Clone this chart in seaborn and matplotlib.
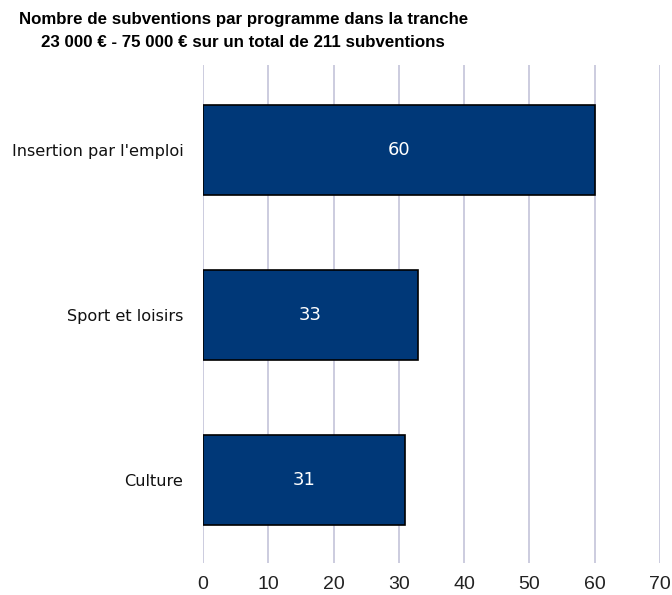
import pandas as pd
import matplotlib.pyplot as plt
import seaborn as sns

programmes = ["Insertion par l'emploi", "Sport et loisirs", "Culture"]
nb_subventions = [60, 33, 31]
ticks = [0, 10, 20, 30, 40, 50, 60, 70]
titre = "Nombre de subventions par programme dans la tranche\n23 000 € - 75 000 € sur un total de 211 subventions"

df = pd.DataFrame({'programme': programmes, 'nb': nb_subventions})

sns.set_theme(style="white")
plt.rcParams['font.family'] = ['DejaVu Sans']

fig = plt.figure(figsize=(6.72, 5.95), dpi=100)
ax = fig.add_axes([0.302, 0.054, 0.68, 0.837])

sns.barplot(data=df, x='nb', y='programme', color='#003878', saturation=1,
            edgecolor='black', linewidth=1.2, width=0.545, ax=ax, zorder=3)

for i, v in enumerate(nb_subventions):
    ax.text(v / 2, i, str(v), color='white', ha='center', va='center', fontsize=13, zorder=4)

ax.set_xlim(0, 70)
ax.set_ylim(2.503, -0.515)
ax.set_xticks(ticks)
ax.xaxis.grid(True, color='#c8c8dc', linewidth=1.3, zorder=0)
ax.yaxis.grid(False)
for s in ax.spines.values():
    s.set_visible(False)
ax.tick_params(axis='x', length=0, pad=9.5, labelsize=14, colors='#222222')
ax.tick_params(axis='y', length=0, pad=14, labelsize=11.6, colors='#111111')
for lab in ax.get_xticklabels():
    lab.set_family('Liberation Sans')
ax.set_xlabel('')
ax.set_ylabel('')

fig.text(0.362, 0.979, titre, ha='center', va='top', fontsize=12.2, fontweight='bold',
         family='Liberation Sans', linespacing=1.6, color='black')

fig.savefig('out.png', dpi=100)
